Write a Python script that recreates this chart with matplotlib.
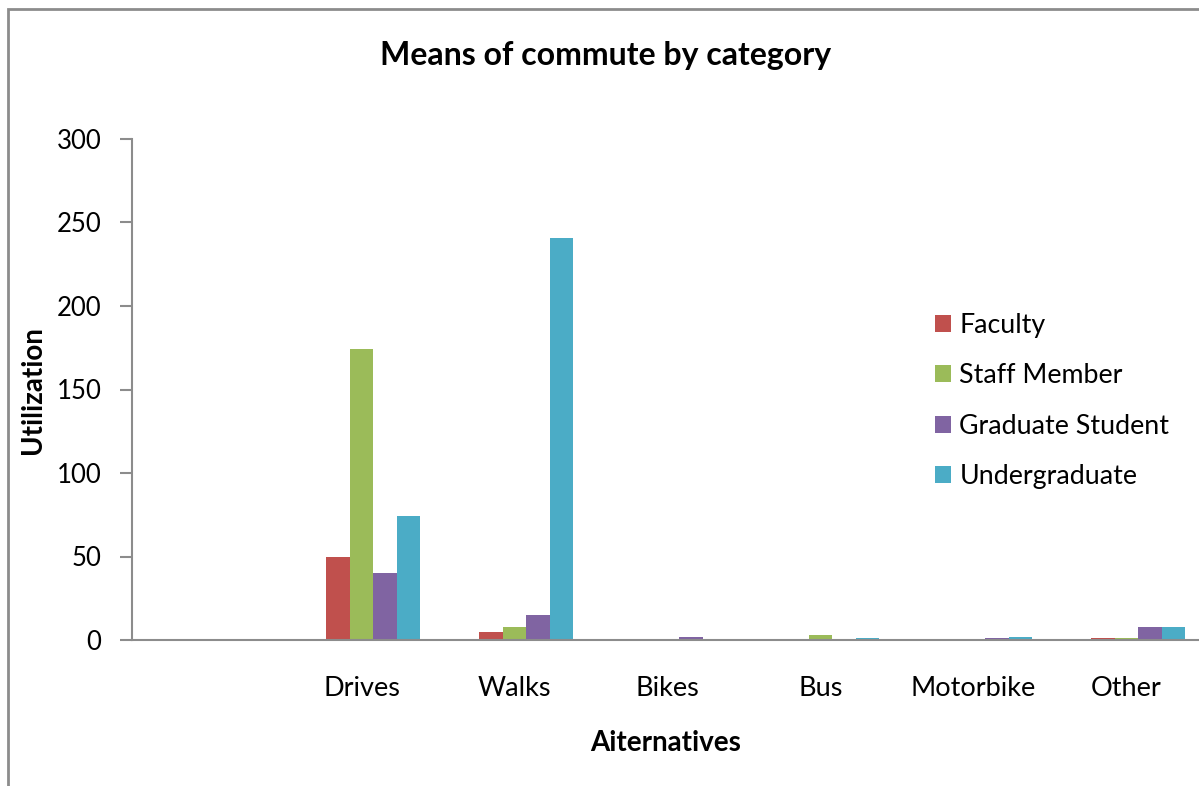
import numpy as np
import matplotlib
matplotlib.use("Agg")
import matplotlib.pyplot as plt
from matplotlib.patches import Rectangle

plt.rcParams['font.family'] = ['Lato', 'DejaVu Sans']

categories = ["", "Drives", "Walks", "Bikes", "Bus", "Motorbike", "Other"]
series_names = ["", "Faculty", "Staff Member", "Graduate Student", "Undergraduate"]
blank = [0, 0, 0, 0, 0, 0, 0]
faculty = [0, 50, 5, 0, 0, 0, 1]
staff = [0, 174, 8, 0, 3, 0, 1]
graduate = [0, 40, 15, 2, 0, 1, 8]
undergraduate = [0, 74, 241, 0, 1, 2, 8]
colors = ["none", "#C0504D", "#9BBB59", "#8064A2", "#4BACC6"]
yticks = [0, 50, 100, 150, 200, 250, 300]

fig = plt.figure(figsize=(11.99, 7.86), dpi=100)
ax = fig.add_axes([132 / 1199, 1 - 640 / 786, (1203 - 132) / 1199, (640 - 139) / 786])

# Outer chart border (partly beyond the canvas on the right and bottom)
fig.patches.append(Rectangle((8 / 1199, -0.1), 1.2, 1.1 - 9 / 786,
                             transform=fig.transFigure, fill=False,
                             edgecolor="#8c8c8c", linewidth=2, clip_on=False))

x = np.arange(len(categories))
n = len(series_names)
gap = 1.5
w = 1 / (n + gap)
handles = []
for i, (vals, name, c) in enumerate(zip([blank, faculty, staff, graduate, undergraduate],
                                         series_names, colors)):
    offs = (i - (n - 1) / 2) * w
    bars = ax.bar(x + offs, vals, width=w, color=c, label=name, linewidth=0)
    if name:
        handles.append(bars)

ax.set_xlim(-0.5, len(categories) - 0.5)
ax.set_ylim(0, 300)
ax.set_yticks(yticks)
ax.set_xticks(x)
ax.set_xticklabels(categories)
ax.tick_params(axis='x', length=0, pad=26, labelsize=19.5)
ax.tick_params(axis='y', length=9, width=1.5, color="#8c8c8c", pad=13, labelsize=18.5)
for s in ["top", "right"]:
    ax.spines[s].set_visible(False)
for s in ["left", "bottom"]:
    ax.spines[s].set_color("#8c8c8c")
    ax.spines[s].set_linewidth(1.5)

fig.text(606 / 1199, 1 - 55 / 786, "Means of commute by category",
         ha="center", va="center", fontsize=23, fontweight="bold")
fig.text(666 / 1199, 1 - 743 / 786, "Aiternatives",
         ha="center", va="center", fontsize=20, fontweight="bold")
fig.text(33 / 1199, 1 - 390 / 786, "Utilization", rotation=90,
         ha="center", va="center", fontsize=20, fontweight="bold")

fig.legend(handles=handles, loc="upper left", bbox_to_anchor=(911 / 1199, 1 - 289 / 786),
           frameon=False, fontsize=19.3, handlelength=0.6, handleheight=0.6,
           handletextpad=0.3, labelspacing=0.94)

fig.savefig("out.png", dpi=100)
